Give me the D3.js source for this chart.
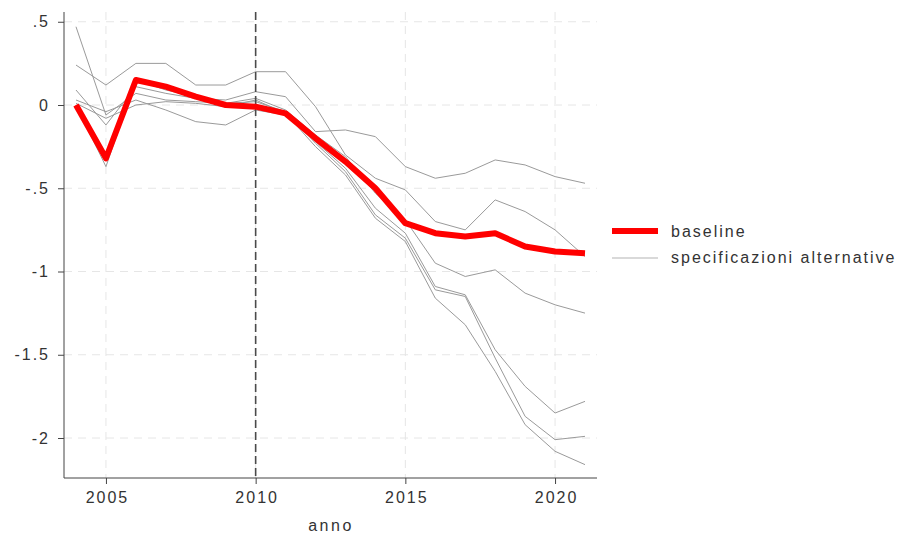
<!DOCTYPE html>
<html><head><meta charset="utf-8">
<script src="https://cdn.jsdelivr.net/npm/d3@7"></script>
<style>body{margin:0;background:#fff}svg{display:block}text{font-family:"Liberation Sans",Arial,sans-serif;fill:#333}</style>
</head><body>
<script>
const years = d3.range(2004, 2022);
const baseline = [0, -0.32, 0.15, 0.11, 0.05, 0.0, -0.01, -0.05, -0.20, -0.34, -0.50, -0.71, -0.77, -0.79, -0.77, -0.85, -0.88, -0.89];
const altA = [0.09, -0.12, 0.11, 0.07, 0.04, 0.03, 0.08, 0.05, -0.16, -0.15, -0.19, -0.37, -0.44, -0.41, -0.33, -0.36, -0.43, -0.47];
const altB = [0.24, 0.12, 0.25, 0.25, 0.12, 0.12, 0.20, 0.20, -0.01, -0.30, -0.44, -0.51, -0.70, -0.75, -0.57, -0.64, -0.75, -0.91];
const altC = [0.47, -0.06, 0.07, 0.03, 0.02, 0.01, 0.04, -0.03, -0.18, -0.31, -0.53, -0.69, -0.95, -1.03, -0.99, -1.13, -1.20, -1.25];
const altD = [0.03, -0.04, 0.03, -0.03, -0.10, -0.12, -0.03, -0.06, -0.22, -0.38, -0.62, -0.77, -1.09, -1.14, -1.47, -1.69, -1.85, -1.78];
const altE = [0.00, -0.37, 0.15, 0.09, 0.05, 0.01, 0.02, -0.04, -0.23, -0.40, -0.66, -0.80, -1.11, -1.15, -1.52, -1.87, -2.01, -1.99];
const altF = [0.01, -0.08, 0.00, 0.02, 0.01, -0.01, 0.03, -0.05, -0.25, -0.42, -0.68, -0.82, -1.16, -1.32, -1.60, -1.92, -2.08, -2.16];
const alternatives = [altA, altB, altC, altD, altE, altF];
const xTicks = [2005, 2010, 2015, 2020];
const yTicks = [0.5, 0, -0.5, -1, -1.5, -2];
const yTickLabels = [".5", "0", "-.5", "-1", "-1.5", "-2"];
const legendLabels = ["baseline", "specificazioni alternative"];

const W = 899, H = 538;
const plot = {l: 64, r: 597, t: 12, b: 478};
const x = d3.scaleLinear().domain([2004, 2021]).range([76, 585]);
const y = d3.scaleLinear().domain([0, -2]).range([105, 438]);
const FONT = "'Liberation Sans', Arial, sans-serif";

const svg = d3.select("body").append("svg").attr("width", W).attr("height", H);

// grid
svg.append("g").selectAll("line").data(yTicks).join("line")
  .attr("x1", plot.l).attr("x2", plot.r).attr("y1", d => y(d)).attr("y2", d => y(d))
  .attr("stroke", "#e6e6e6").attr("stroke-width", 1).attr("stroke-dasharray", "8,6");
svg.append("g").selectAll("line").data(xTicks).join("line")
  .attr("x1", d => x(d)).attr("x2", d => x(d)).attr("y1", plot.t).attr("y2", plot.b)
  .attr("stroke", "#e6e6e6").attr("stroke-width", 1).attr("stroke-dasharray", "8,6");

const line = d3.line().x((d, i) => x(years[i])).y(d => y(d));

// alternative lines
svg.append("g").selectAll("path").data(alternatives).join("path")
  .attr("d", line).attr("fill", "none").attr("stroke", "#9a9a9a").attr("stroke-width", 1);

// vertical reference line
svg.append("line").attr("x1", x(2010)).attr("x2", x(2010)).attr("y1", plot.t).attr("y2", plot.b)
  .attr("stroke", "#4a4a4a").attr("stroke-width", 1.6).attr("stroke-dasharray", "8,4");

// baseline
svg.append("path").datum(baseline).attr("d", line).attr("fill", "none")
  .attr("stroke", "#ff0000").attr("stroke-width", 6).attr("stroke-linejoin", "round").attr("stroke-linecap", "butt");

// axes
const yAxis = d3.axisLeft(y).tickValues(yTicks).tickFormat((d, i) => yTickLabels[i]).tickSize(6).tickPadding(8);
const gy = svg.append("g").attr("transform", `translate(${plot.l},0)`).call(yAxis);
gy.select(".domain").remove();
gy.append("line").attr("x1", 0).attr("x2", 0).attr("y1", plot.t).attr("y2", plot.b).attr("stroke", "#444");
gy.selectAll(".tick line").attr("stroke", "#444");
gy.selectAll(".tick text").attr("font-size", 16).attr("fill", "#333").attr("letter-spacing", 2).style("font-family", FONT);

const xAxis = d3.axisBottom(x).tickValues(xTicks).tickFormat(d3.format("d")).tickSize(6).tickPadding(8);
const gx = svg.append("g").attr("transform", `translate(0,${plot.b})`).call(xAxis);
gx.select(".domain").remove();
gx.append("line").attr("x1", plot.l).attr("x2", plot.r).attr("y1", 0).attr("y2", 0).attr("stroke", "#444");
gx.selectAll(".tick line").attr("stroke", "#444");
gx.selectAll(".tick text").attr("font-size", 16).attr("fill", "#333").attr("letter-spacing", 2).attr("dx", 1).style("font-family", FONT);

svg.append("text").attr("x", 331).attr("y", 531).attr("text-anchor", "middle")
  .attr("font-size", 16).attr("letter-spacing", 2.5).text("anno");

// legend
const leg = svg.append("g");
leg.append("line").attr("x1", 612).attr("x2", 658).attr("y1", 231).attr("y2", 231).attr("stroke", "#ff0000").attr("stroke-width", 6);
leg.append("line").attr("x1", 612).attr("x2", 658).attr("y1", 258).attr("y2", 258).attr("stroke", "#cccccc").attr("stroke-width", 1.5);
leg.selectAll("text").data(legendLabels).join("text")
  .attr("x", 671).attr("y", (d, i) => 237 + i * 26).attr("font-size", 16).attr("letter-spacing", 2).text(d => d);
</script>
</body></html>
